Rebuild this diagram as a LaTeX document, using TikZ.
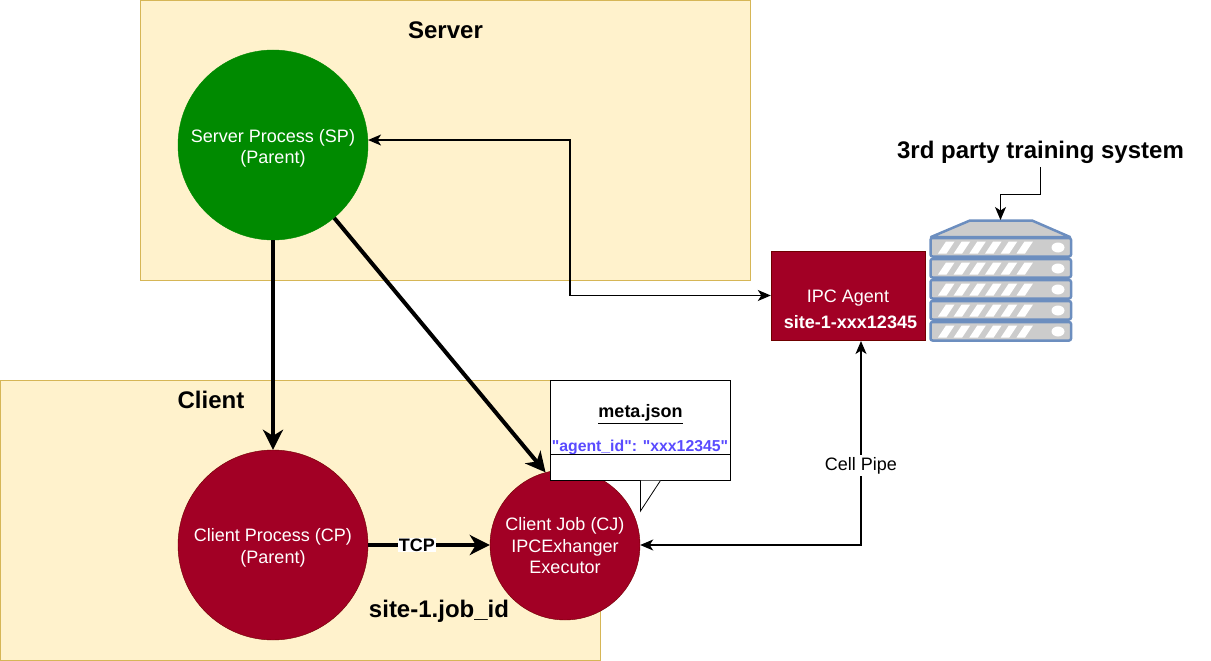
\documentclass[tikz,border=0pt]{standalone}
\usepackage{fontspec}
\setmainfont{Liberation Sans}
\usetikzlibrary{arrows.meta}
\definecolor{zonefill}{HTML}{FFF2CC}
\definecolor{zoneedge}{HTML}{D6B656}
\definecolor{spgreen}{HTML}{008A00}
\definecolor{jobred}{HTML}{A20025}
\definecolor{jobedge}{HTML}{6F0000}
\definecolor{rackfill}{HTML}{CCCCCC}
\definecolor{rackedge}{HTML}{6C8EBF}
\definecolor{linkblue}{HTML}{5A4BFF}
\newcommand{\lowertext}[1]{\mbox{}\\[\dimexpr-21.5pt+#1\relax]}
\tikzset{
  zone/.style={draw=zoneedge, fill=zonefill, line width=0.8pt},
  proc/.style={circle, draw=#1, fill=#1, text=white, align=center, inner sep=0pt, font=\fontsize{18}{21.5}\selectfont},
  title/.style={font=\fontsize{24}{28}\selectfont\bfseries},
  thin link/.style={line width=1.3pt, -{Stealth[length=13pt,width=11pt,inset=3.5pt]}},
  thick link/.style={line width=4pt, -{Stealth[length=20pt,width=20pt,inset=6pt]}},
  both link/.style={line width=1.3pt, {Stealth[length=13pt,width=11pt,inset=3.5pt]}-{Stealth[length=13pt,width=11pt,inset=3.5pt]}},
}
\begin{document}
\begin{tikzpicture}[x=1pt, y=-1pt]
  \useasboundingbox (0,0) rectangle (1211,661);
  % zones
  \draw[zone] (140.5,0.5) rectangle (750.5,280.5);
  \draw[zone] (0.5,380.5) rectangle (600.5,660.5);
  \node[title] (servertitle) at (445.5,30) {Server};
  \node[title] (clienttitle) at (211,400) {Client};
  \node[font=\fontsize{24}{28}\selectfont\bfseries] (sitelabel) at (439,611) {site-1.job\_id};
  % processes
  \node[proc=spgreen, minimum size=190pt] (sp) at (273,145) {\lowertext{20pt}Server Process (SP)\\(Parent)};
  \node[proc=jobred, draw=jobedge, minimum size=190pt] (cp) at (273,545) {\lowertext{19pt}Client Process (CP)\\(Parent)};
  \node[proc=jobred, draw=jobedge, minimum size=150pt] (cj) at (565,545) {\lowertext{15pt}Client Job (CJ)\\IPCExhanger\\Executor};
  \node[draw=jobedge, fill=jobred, text=white, align=center, minimum width=154pt, minimum height=89pt, inner sep=0pt, font=\fontsize{18}{21.5}\selectfont] (agent) at (848,295.5) {\mbox{}\\[19pt]IPC Agent\\[5pt]\hspace*{5pt}\textbf{site-1-xxx12345}};
  % rack
  \draw[rackedge, fill=rackfill, line width=2.5pt, line join=round] (931,237) -- (970,220.5) -- (1032,220.5) -- (1070,237) -- cycle;
  \foreach \y in {238,259,280,301,322} {
    \draw[rackedge, fill=rackfill, line width=2.5pt, rounded corners=2pt] (930.5,\y) rectangle (1071,\y+18.5);
    \foreach \i in {0,...,5} {
      \fill[white] (938+\i*15.7,\y+15.5) -- (946.5+\i*15.7,\y+15.5) -- (954.5+\i*15.7,\y+3.5) -- (946+\i*15.7,\y+3.5) -- cycle;
    }
    \fill[white] (1058,\y+9.5) ellipse (6.5 and 5);
  }
  \coordinate (racktop) at (1000.5,220);
  \node[title] (rackname) at (1040.5,152) {3rd party training system};
  % links
  \coordinate (bend) at (570,200);
  \coordinate (agentin) at (861,341);
  \draw[thick link] (sp.south) -- (cp.north);
  \draw[thick link] (sp.-50) -- (cj.105);
  \draw[thick link] (cp.east) -- node[pos=0.4, fill=white, inner sep=1pt, font=\fontsize{18}{20}\selectfont\bfseries] (tcplabel) {TCP} (cj.west);
  \draw[both link] (sp.3) -| (bend) |- (agent.west);
  \draw[both link] (cj.east) -| node[pos=0.695, fill=white, inner sep=2pt, font=\fontsize{18}{20}\selectfont] (pipelabel) {Cell Pipe} (agentin);
  \draw[thin link] (rackname.south) -- ++(0,28) -| (racktop);
  % meta.json note
  \node[draw=black, fill=white, line width=1pt, minimum width=180pt, minimum height=100pt] (note) at (640.5,430.5) {};
  \coordinate (tailleft) at (640.5,480.5);
  \coordinate (tailtip) at (640.5,511);
  \coordinate (tailright) at (660.5,480.5);
  \fill[white] (tailleft) -- (tailtip) -- (tailright) -- cycle;
  \draw[line width=0.8pt] (tailleft) -- (tailtip) -- (tailright);
  \node[font=\fontsize{18}{20}\selectfont\bfseries] (metaname) at (640.5,414) {\underline{meta.json}};
  \node[font=\fontsize{15.8}{20}\selectfont\bfseries, text=linkblue] (agentid) at (640,447.5) {\textquotedbl agent\_id\textquotedbl: \textquotedbl xxx12345\textquotedbl};
  \draw[line width=0.8pt] (note.west |- 0,454.5) -- (note.east |- 0,454.5);
\end{tikzpicture}
\end{document}
